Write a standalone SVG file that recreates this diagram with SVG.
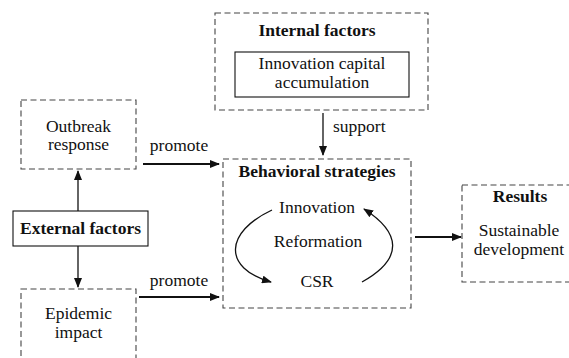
<svg xmlns="http://www.w3.org/2000/svg" width="569" height="358" viewBox="0 0 569 358">
  <style>
    text { font-family: 'Liberation Serif', 'DejaVu Serif', serif; font-size: 17.5px; fill: #111; text-anchor: middle; }
    .b { font-weight: bold; }
    .dash { fill: none; stroke: #444; stroke-width: 1.1; stroke-dasharray: 6 3.5; }
    .solid { fill: #fff; stroke: #111; stroke-width: 1.1; }
    .edge { fill: none; stroke: #111; stroke-width: 1.3; }
    .thick { fill: none; stroke: #111; stroke-width: 2; }
  </style>
  <defs>
    <marker id="arrow" markerWidth="10" markerHeight="8" refX="9" refY="4" orient="auto" markerUnits="userSpaceOnUse">
      <path d="M0,0 L10,4 L0,8 Z" fill="#111"/>
    </marker>
  </defs>
  <rect width="569" height="358" fill="#fff"/>

  <g font-family="Liberation Serif, DejaVu Serif, serif">
  <g id="outbreak-response">
    <rect class="dash" x="21" y="100" width="115" height="69"/>
    <text x="78.5" y="131.5">Outbreak</text>
    <text x="78.5" y="150">response</text>
  </g>

  <g id="external-factors">
    <rect class="solid" x="13" y="211" width="135" height="35"/>
    <text class="b" x="80.5" y="234">External factors</text>
  </g>

  <g id="epidemic-impact">
    <rect class="dash" x="21" y="289" width="115" height="80"/>
    <text x="78.5" y="318.5">Epidemic</text>
    <text x="78.5" y="338">impact</text>
  </g>

  <g id="internal-factors">
    <rect class="dash" x="215" y="13" width="213" height="97"/>
    <text class="b" x="317" y="36">Internal factors</text>
    <rect class="solid" x="235" y="52" width="174" height="45"/>
    <text x="322" y="69">Innovation capital</text>
    <text x="322" y="88">accumulation</text>
  </g>

  <g id="behavioral-strategies">
    <rect class="dash" x="223" y="159" width="188" height="149"/>
    <text class="b" x="317" y="177">Behavioral strategies</text>
    <text x="317" y="213">Innovation</text>
    <text x="318" y="247">Reformation</text>
    <text x="317" y="287">CSR</text>
  </g>

  <g id="results">
    <rect class="dash" x="462" y="185" width="120" height="97"/>
    <text class="b" x="520" y="202">Results</text>
    <text x="519" y="236">Sustainable</text>
    <text x="519" y="255">development</text>
  </g>

  <g id="connectors">
    <line class="edge" x1="78" y1="211" x2="78" y2="171" marker-end="url(#arrow)"/>
    <line class="edge" x1="78" y1="246" x2="78" y2="287" marker-end="url(#arrow)"/>
    <line class="thick" x1="143" y1="164" x2="219" y2="164" marker-end="url(#arrow)"/>
    <text x="179" y="151">promote</text>
    <line class="thick" x1="139" y1="297" x2="219" y2="297" marker-end="url(#arrow)"/>
    <text x="179" y="286">promote</text>
    <line class="edge" x1="323" y1="113" x2="323" y2="155" marker-end="url(#arrow)"/>
    <text x="333" y="132" style="text-anchor:start">support</text>
    <line class="thick" x1="415" y1="237" x2="461" y2="237" marker-end="url(#arrow)"/>
    <path class="edge" d="M272,210 C225,232 222,268 271,282" marker-end="url(#arrow)"/>
    <path class="edge" d="M362,282 C405,258 400,232 364,209" marker-end="url(#arrow)"/>
  </g>
  </g>
</svg>
